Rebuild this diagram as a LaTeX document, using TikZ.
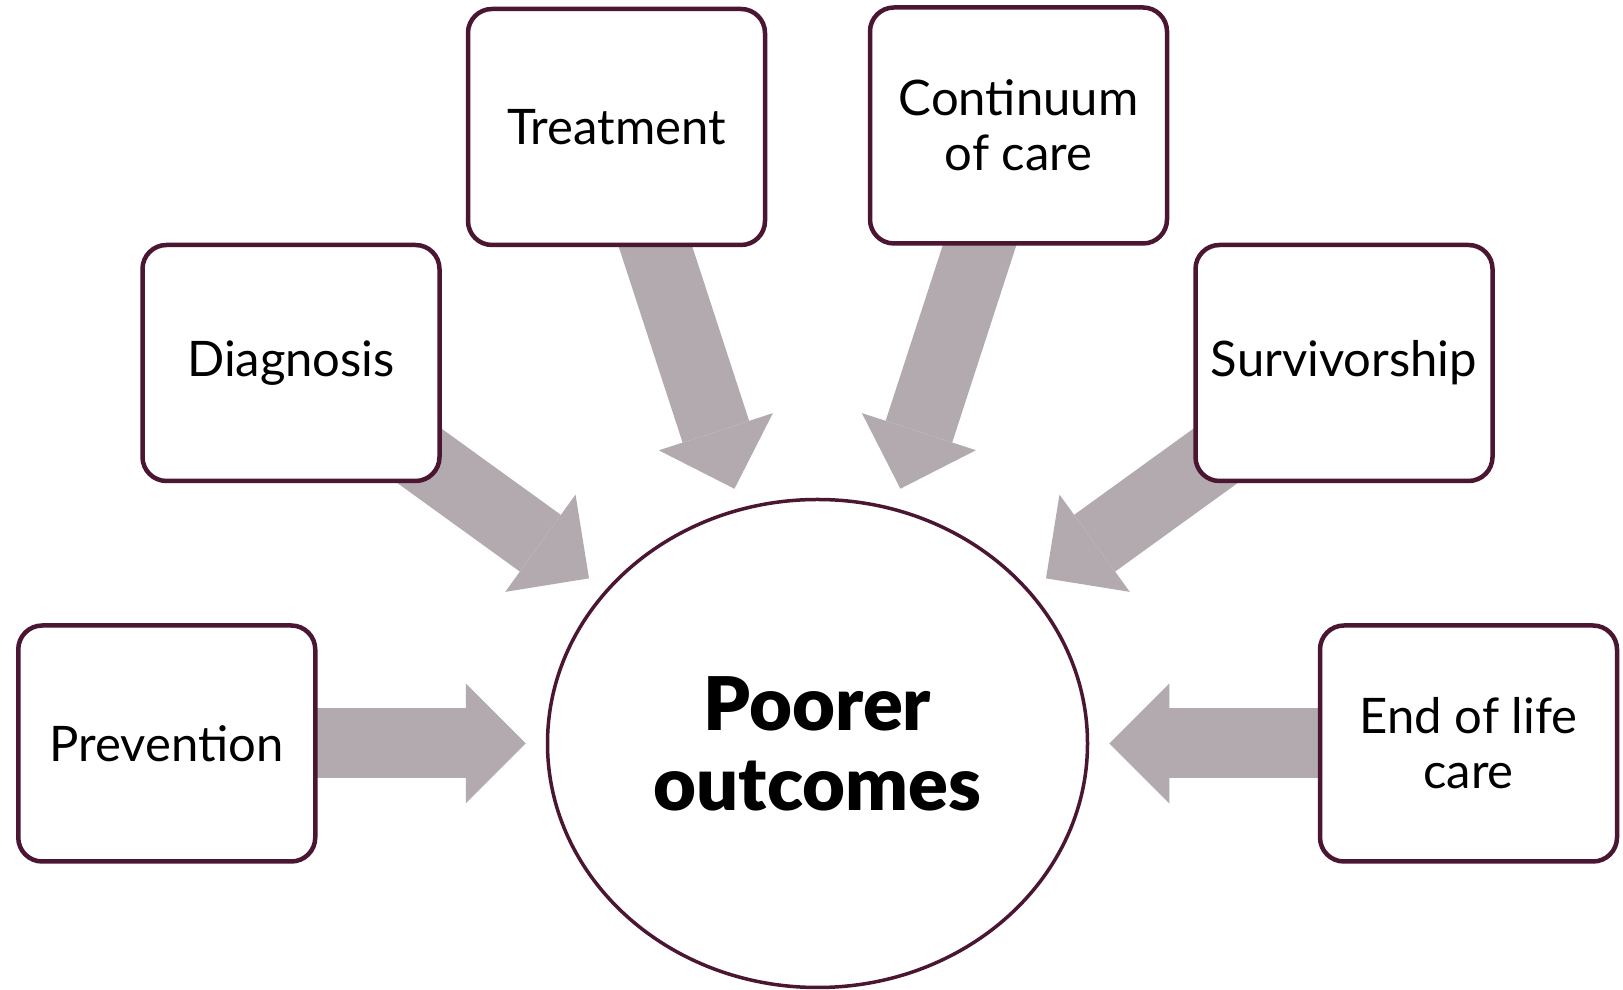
\documentclass[tikz,border=0pt]{standalone}
\usepackage{fontspec}
\setmainfont{Lato}
\newfontfamily\epais{Lato Black}
\usetikzlibrary{arrows.meta,backgrounds,shapes.geometric}

\definecolor{prune}{HTML}{4A1632}
\definecolor{grisfleche}{HTML}{B2AAAE}

\tikzset{
  etape/.style={draw=prune, line width=4.5pt, fill=white, rounded corners=24pt,
    minimum width=297pt, minimum height=236pt, align=center,
    font=\fontsize{49}{55}\selectfont},
  fleche/.style={grisfleche, line width=70pt,
    -{Triangle[length=60pt,width=120pt,line width=0pt]}, shorten >=20pt},
}

\begin{document}
\begin{tikzpicture}[x=1pt,y=1pt]
  \useasboundingbox (0,0) rectangle (1623,990);

    \coordinate (c) at (817.5,246.5);
  % Centre
  \node[draw=prune, line width=3.5pt, ellipse, fill=white,
        minimum width=540pt, minimum height=488pt, inner sep=0pt,
        align=center, font=\fontsize{74}{80}\selectfont\epais]
        (out) at (c) {Poorer\\outcomes};

  % Boxes
  \node[etape] (prev) at (166.75,246.5) {Prevention};
  \node[etape] (diag) at (291,627) {Diagnosis};
  \node[etape] (treat) at (616.5,863) {Treatment};
  \node[etape] (cont) at (1018.5,864.5) {Continuum\\of care};
  \node[etape] (surv) at (1344,627) {Survivorship};
  \node[etape] (eol) at (1468.5,246.5) {End of life\\care};

  % Arrows
  \begin{scope}[on background layer]
    \foreach \b in {prev,diag,treat,cont,surv,eol}
      \draw[fleche] (\b.center) -- (out);
  \end{scope}
\end{tikzpicture}
\end{document}
